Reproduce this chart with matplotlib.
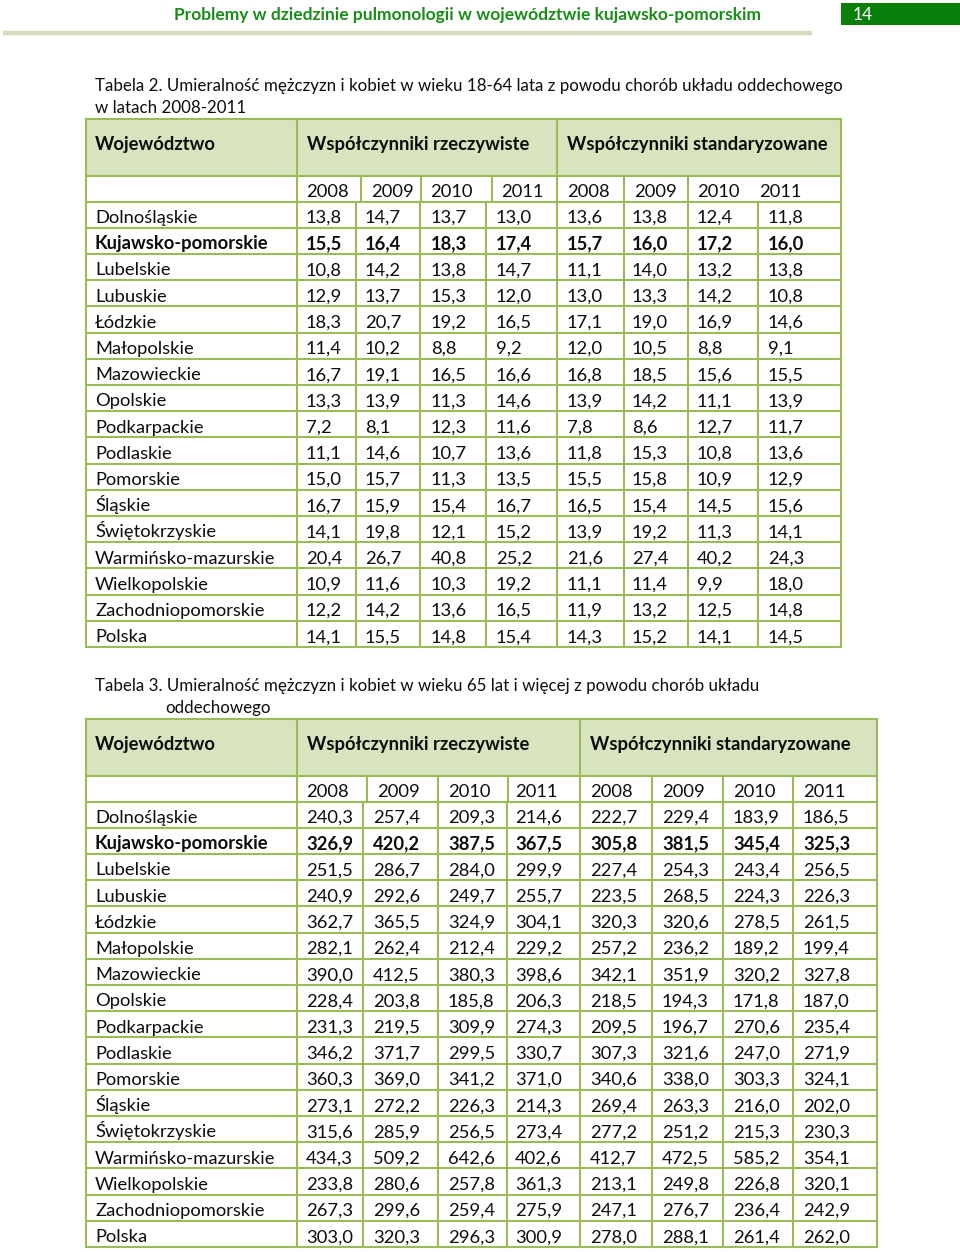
import matplotlib
matplotlib.use("Agg")
import matplotlib.pyplot as plt
from matplotlib.patches import Rectangle

plt.rcParams['font.family'] = ['Lato', 'DejaVu Sans']

# --- data ---
page_title = "Problemy w dziedzinie pulmonologii w województwie kujawsko-pomorskim"
page_number = "14"

regions = ["Dolnośląskie", "Kujawsko-pomorskie", "Lubelskie", "Lubuskie", "Łódzkie",
           "Małopolskie", "Mazowieckie", "Opolskie", "Podkarpackie", "Podlaskie",
           "Pomorskie", "Śląskie", "Świętokrzyskie", "Warmińsko-mazurskie",
           "Wielkopolskie", "Zachodniopomorskie", "Polska"]
years = ["2008", "2009", "2010", "2011"]
bold_region = "Kujawsko-pomorskie"

col_region = "Województwo"
col_real = "Współczynniki rzeczywiste"
col_std = "Współczynniki standaryzowane"

t2_caption = ["Tabela 2. Umieralność mężczyzn i kobiet w wieku 18-64 lata z powodu chorób układu oddechowego",
              "w latach 2008-2011"]
t2_real = [[13.8, 14.7, 13.7, 13.0], [15.5, 16.4, 18.3, 17.4], [10.8, 14.2, 13.8, 14.7],
           [12.9, 13.7, 15.3, 12.0], [18.3, 20.7, 19.2, 16.5], [11.4, 10.2, 8.8, 9.2],
           [16.7, 19.1, 16.5, 16.6], [13.3, 13.9, 11.3, 14.6], [7.2, 8.1, 12.3, 11.6],
           [11.1, 14.6, 10.7, 13.6], [15.0, 15.7, 11.3, 13.5], [16.7, 15.9, 15.4, 16.7],
           [14.1, 19.8, 12.1, 15.2], [20.4, 26.7, 40.8, 25.2], [10.9, 11.6, 10.3, 19.2],
           [12.2, 14.2, 13.6, 16.5], [14.1, 15.5, 14.8, 15.4]]
t2_std = [[13.6, 13.8, 12.4, 11.8], [15.7, 16.0, 17.2, 16.0], [11.1, 14.0, 13.2, 13.8],
          [13.0, 13.3, 14.2, 10.8], [17.1, 19.0, 16.9, 14.6], [12.0, 10.5, 8.8, 9.1],
          [16.8, 18.5, 15.6, 15.5], [13.9, 14.2, 11.1, 13.9], [7.8, 8.6, 12.7, 11.7],
          [11.8, 15.3, 10.8, 13.6], [15.5, 15.8, 10.9, 12.9], [16.5, 15.4, 14.5, 15.6],
          [13.9, 19.2, 11.3, 14.1], [21.6, 27.4, 40.2, 24.3], [11.1, 11.4, 9.9, 18.0],
          [11.9, 13.2, 12.5, 14.8], [14.3, 15.2, 14.1, 14.5]]

t3_caption = ["Tabela 3. Umieralność mężczyzn i kobiet w wieku 65 lat i więcej z powodu chorób układu",
              "oddechowego"]
t3_real = [[240.3, 257.4, 209.3, 214.6], [326.9, 420.2, 387.5, 367.5], [251.5, 286.7, 284.0, 299.9],
           [240.9, 292.6, 249.7, 255.7], [362.7, 365.5, 324.9, 304.1], [282.1, 262.4, 212.4, 229.2],
           [390.0, 412.5, 380.3, 398.6], [228.4, 203.8, 185.8, 206.3], [231.3, 219.5, 309.9, 274.3],
           [346.2, 371.7, 299.5, 330.7], [360.3, 369.0, 341.2, 371.0], [273.1, 272.2, 226.3, 214.3],
           [315.6, 285.9, 256.5, 273.4], [434.3, 509.2, 642.6, 402.6], [233.8, 280.6, 257.8, 361.3],
           [267.3, 299.6, 259.4, 275.9], [303.0, 320.3, 296.3, 300.9]]
t3_std = [[222.7, 229.4, 183.9, 186.5], [305.8, 381.5, 345.4, 325.3], [227.4, 254.3, 243.4, 256.5],
          [223.5, 268.5, 224.3, 226.3], [320.3, 320.6, 278.5, 261.5], [257.2, 236.2, 189.2, 199.4],
          [342.1, 351.9, 320.2, 327.8], [218.5, 194.3, 171.8, 187.0], [209.5, 196.7, 270.6, 235.4],
          [307.3, 321.6, 247.0, 271.9], [340.6, 338.0, 303.3, 324.1], [269.4, 263.3, 216.0, 202.0],
          [277.2, 251.2, 215.3, 230.3], [412.7, 472.5, 585.2, 354.1], [213.1, 249.8, 226.8, 320.1],
          [247.1, 276.7, 236.4, 242.9], [278.0, 288.1, 261.4, 262.0]]

# --- style ---
BORDER = "#9bbb59"
HEAD_FILL = "#d7e4bd"
TXT = "#0d0d0d"
LW = 1.5
FS = 13.2
CAP_FS = 12.15

fig = plt.figure(figsize=(9.6, 12.52), dpi=100)
ax = fig.add_axes([0, 0, 1, 1])
ax.set_xlim(0, 960)
ax.set_ylim(1252, 0)
ax.axis("off")

# page header
ax.text(468, 20, page_title, color="#1a8c1a", fontsize=12.5, fontweight="bold",
        ha="center", va="baseline")
ax.add_patch(Rectangle((841, 3), 119, 22, color="#0b7f0b", lw=0))
ax.text(853, 20, page_number, color="white", fontsize=12.5, ha="left", va="baseline")
ax.plot([3, 812], [33, 33], color="#d6dbbf", lw=3.2, solid_capstyle="butt")


def fmt(v):
    return f"{v:.1f}".replace(".", ",")


def draw_table(top, caption, cap_x, real, std, left, right, split,
               head_cols, year_cols, year_x, data_cols, data_x):
    # caption
    ax.text(95, top - 28, caption[0], fontsize=CAP_FS, color=TXT, va="baseline")
    ax.text(cap_x, top - 6, caption[1], fontsize=CAP_FS, color=TXT, va="baseline")
    head_h, year_h, row_h = 57, 25.5, 26.2
    head_bot = top + head_h
    year_bot = head_bot + year_h
    bottom = year_bot + row_h * len(regions)
    ax.add_patch(Rectangle((left, top), right - left, head_h, color=HEAD_FILL, lw=0))
    kw = dict(color=BORDER, lw=LW, solid_capstyle="projecting")
    # horizontal lines
    ax.plot([left, right], [top, top], **kw)
    ax.plot([left, right], [head_bot, head_bot], **kw)
    for i in range(len(regions) + 1):
        y = year_bot + i * row_h
        ax.plot([left, right], [y, y], **kw)
    # outer verticals
    ax.plot([left, left], [top, bottom], **kw)
    ax.plot([right, right], [top, bottom], **kw)
    # inner verticals
    for x in head_cols:
        ax.plot([x, x], [top, head_bot], **kw)
    for x in year_cols:
        ax.plot([x, x], [head_bot, year_bot], **kw)
    for x in data_cols:
        ax.plot([x, x], [year_bot, bottom], **kw)
    # header text
    hy = top + 31
    ax.text(95, hy, col_region, fontsize=FS, fontweight="bold", color=TXT, va="baseline")
    ax.text(head_cols[0] + 10, hy, col_real, fontsize=FS, fontweight="bold", color=TXT, va="baseline")
    ax.text(split + 10, hy, col_std, fontsize=FS, fontweight="bold", color=TXT, va="baseline")
    yy = head_bot + 21
    for k, x in enumerate(year_x):
        ax.text(x, yy, years[k % 4], fontsize=FS, color=TXT, va="baseline")
    for i, name in enumerate(regions):
        by = year_bot + i * row_h + 21.5
        w = "bold" if name == bold_region else "normal"
        ax.text(95, by, name, fontsize=FS, fontweight=w, color=TXT, va="baseline")
        vals = real[i] + std[i]
        for j, v in enumerate(vals):
            ax.text(data_x[j], by, fmt(v), fontsize=FS, fontweight=w, color=TXT, va="baseline")


draw_table(119, t2_caption, 95, t2_real, t2_std, 86, 841, 557,
           [297, 557],
           [297, 361, 421, 492, 557, 624, 688],
           [306, 371, 430, 501, 567, 634, 697, 759],
           [297, 356, 420, 486, 557, 624, 688, 758],
           [306, 365, 431, 496, 567, 632, 697, 768])

draw_table(719, t3_caption, 165, t3_real, t3_std, 86, 877, 580,
           [297, 580],
           [297, 367, 438, 508, 580, 652, 723, 793],
           [306, 377, 448, 515, 590, 662, 733, 803],
           [297, 363, 438, 507, 580, 652, 723, 793],
           [306, 373, 448, 515, 590, 662, 733, 803])

fig.savefig("out.png", dpi=100, facecolor="white")
